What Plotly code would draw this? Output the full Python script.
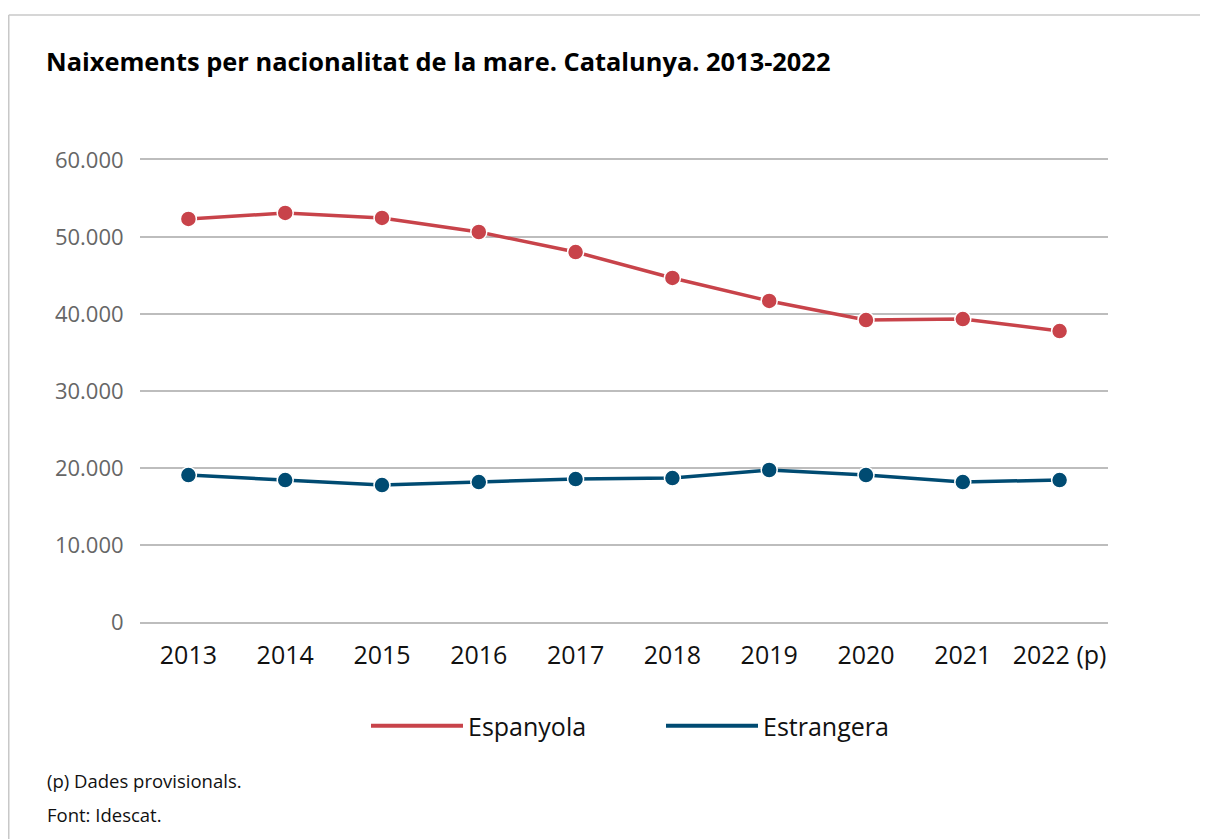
import plotly.graph_objects as go

years = ["2013", "2014", "2015", "2016", "2017", "2018", "2019", "2020", "2021", "2022 (p)"]
espanyola = [52340, 53120, 52470, 50650, 48050, 44680, 41690, 39220, 39350, 37790]
estrangera = [19090, 18440, 17790, 18180, 18570, 18700, 19740, 19090, 18180, 18440]
y_ticks = [0, 10000, 20000, 30000, 40000, 50000, 60000]
y_tick_labels = ["0", "10.000", "20.000", "30.000", "40.000", "50.000", "60.000"]

RED = "#C8434A"
BLUE = "#004B72"
GRID = "#BDBDBD"
FONT = "Open Sans"

fig = go.Figure()
for name, vals, col in [("Espanyola", espanyola, RED), ("Estrangera", estrangera, BLUE)]:
    fig.add_trace(go.Scatter(
        x=years, y=vals, mode="lines+markers", name=name, showlegend=False,
        line=dict(color=col, width=3.5),
        marker=dict(size=16, color=col, line=dict(color="white", width=1.5)),
        hoverinfo="x+y+name",
    ))
    fig.add_trace(go.Scatter(
        x=[None], y=[None], mode="lines", name=name, showlegend=True,
        line=dict(color=col, width=4),
    ))

W, H = 1200, 831
OFF = 8  # page body margin
L, R, T, B = 140 - OFF, W - (1108 - OFF), 160 - OFF, H - (622 - OFF)
PW = W - L - R
PH = H - T - B


def px(x):
    return (x - OFF - L) / PW


def py(y):
    return (H - B - (y - OFF)) / PH


fig.update_layout(
    width=W, height=H,
    margin=dict(l=L, r=R, t=T, b=B, autoexpand=False),
    paper_bgcolor="white", plot_bgcolor="white",
    font=dict(family=FONT, color="#000"),
    title=dict(
        text="<b>Naixements per nacionalitat de la mare. Catalunya. 2013-2022</b>",
        xref="container", yref="container", x=(46 - OFF) / W, xanchor="left",
        y=1 - (62 - OFF) / H, yanchor="middle",
        font=dict(family=FONT, size=25.4, color="#000"),
    ),
    xaxis=dict(
        type="category", range=[-0.5, 9.5], showgrid=False, zeroline=False,
        showline=True, mirror=True, linecolor=GRID, linewidth=1.5,
        ticks="outside", ticklen=10, tickcolor="rgba(0,0,0,0)",
        tickfont=dict(family=FONT, size=25, color="#111"),
    ),
    yaxis=dict(
        range=[0, 60000], tickvals=y_ticks, ticktext=y_tick_labels,
        showgrid=True, gridcolor=GRID, gridwidth=1.5, zeroline=False,
        showline=False, ticks="outside", ticklen=11, tickcolor="rgba(0,0,0,0)",
        tickfont=dict(family=FONT, size=22, color="#666"),
    ),
    legend=dict(
        orientation="h", x=0.5 + 37 / PW, xanchor="center", y=py(726), yanchor="middle",
        font=dict(family=FONT, size=25, color="#111"), itemwidth=92,
        traceorder="normal", entrywidth=188,
    ),
    showlegend=True,
)

fig.add_annotation(text="(p) Dades provisionals.", xref="paper", yref="paper",
                   x=px(45), y=py(780), xanchor="left", yanchor="middle",
                   showarrow=False, font=dict(family=FONT, size=18.5, color="#111"))
fig.add_annotation(text="Font: Idescat.", xref="paper", yref="paper",
                   x=px(45), y=py(814), xanchor="left", yanchor="middle",
                   showarrow=False, font=dict(family=FONT, size=18.5, color="#111"))

fig.add_shape(type="line", xref="paper", yref="paper", x0=px(8.75), x1=px(1215),
              y0=py(15), y1=py(15), line=dict(color="#C8C8C8", width=1.5))
fig.add_shape(type="line", xref="paper", yref="paper", x0=px(8.75), x1=px(8.75),
              y0=py(15), y1=py(845), line=dict(color="#C8C8C8", width=1.5))

fig.write_html("out.html")
